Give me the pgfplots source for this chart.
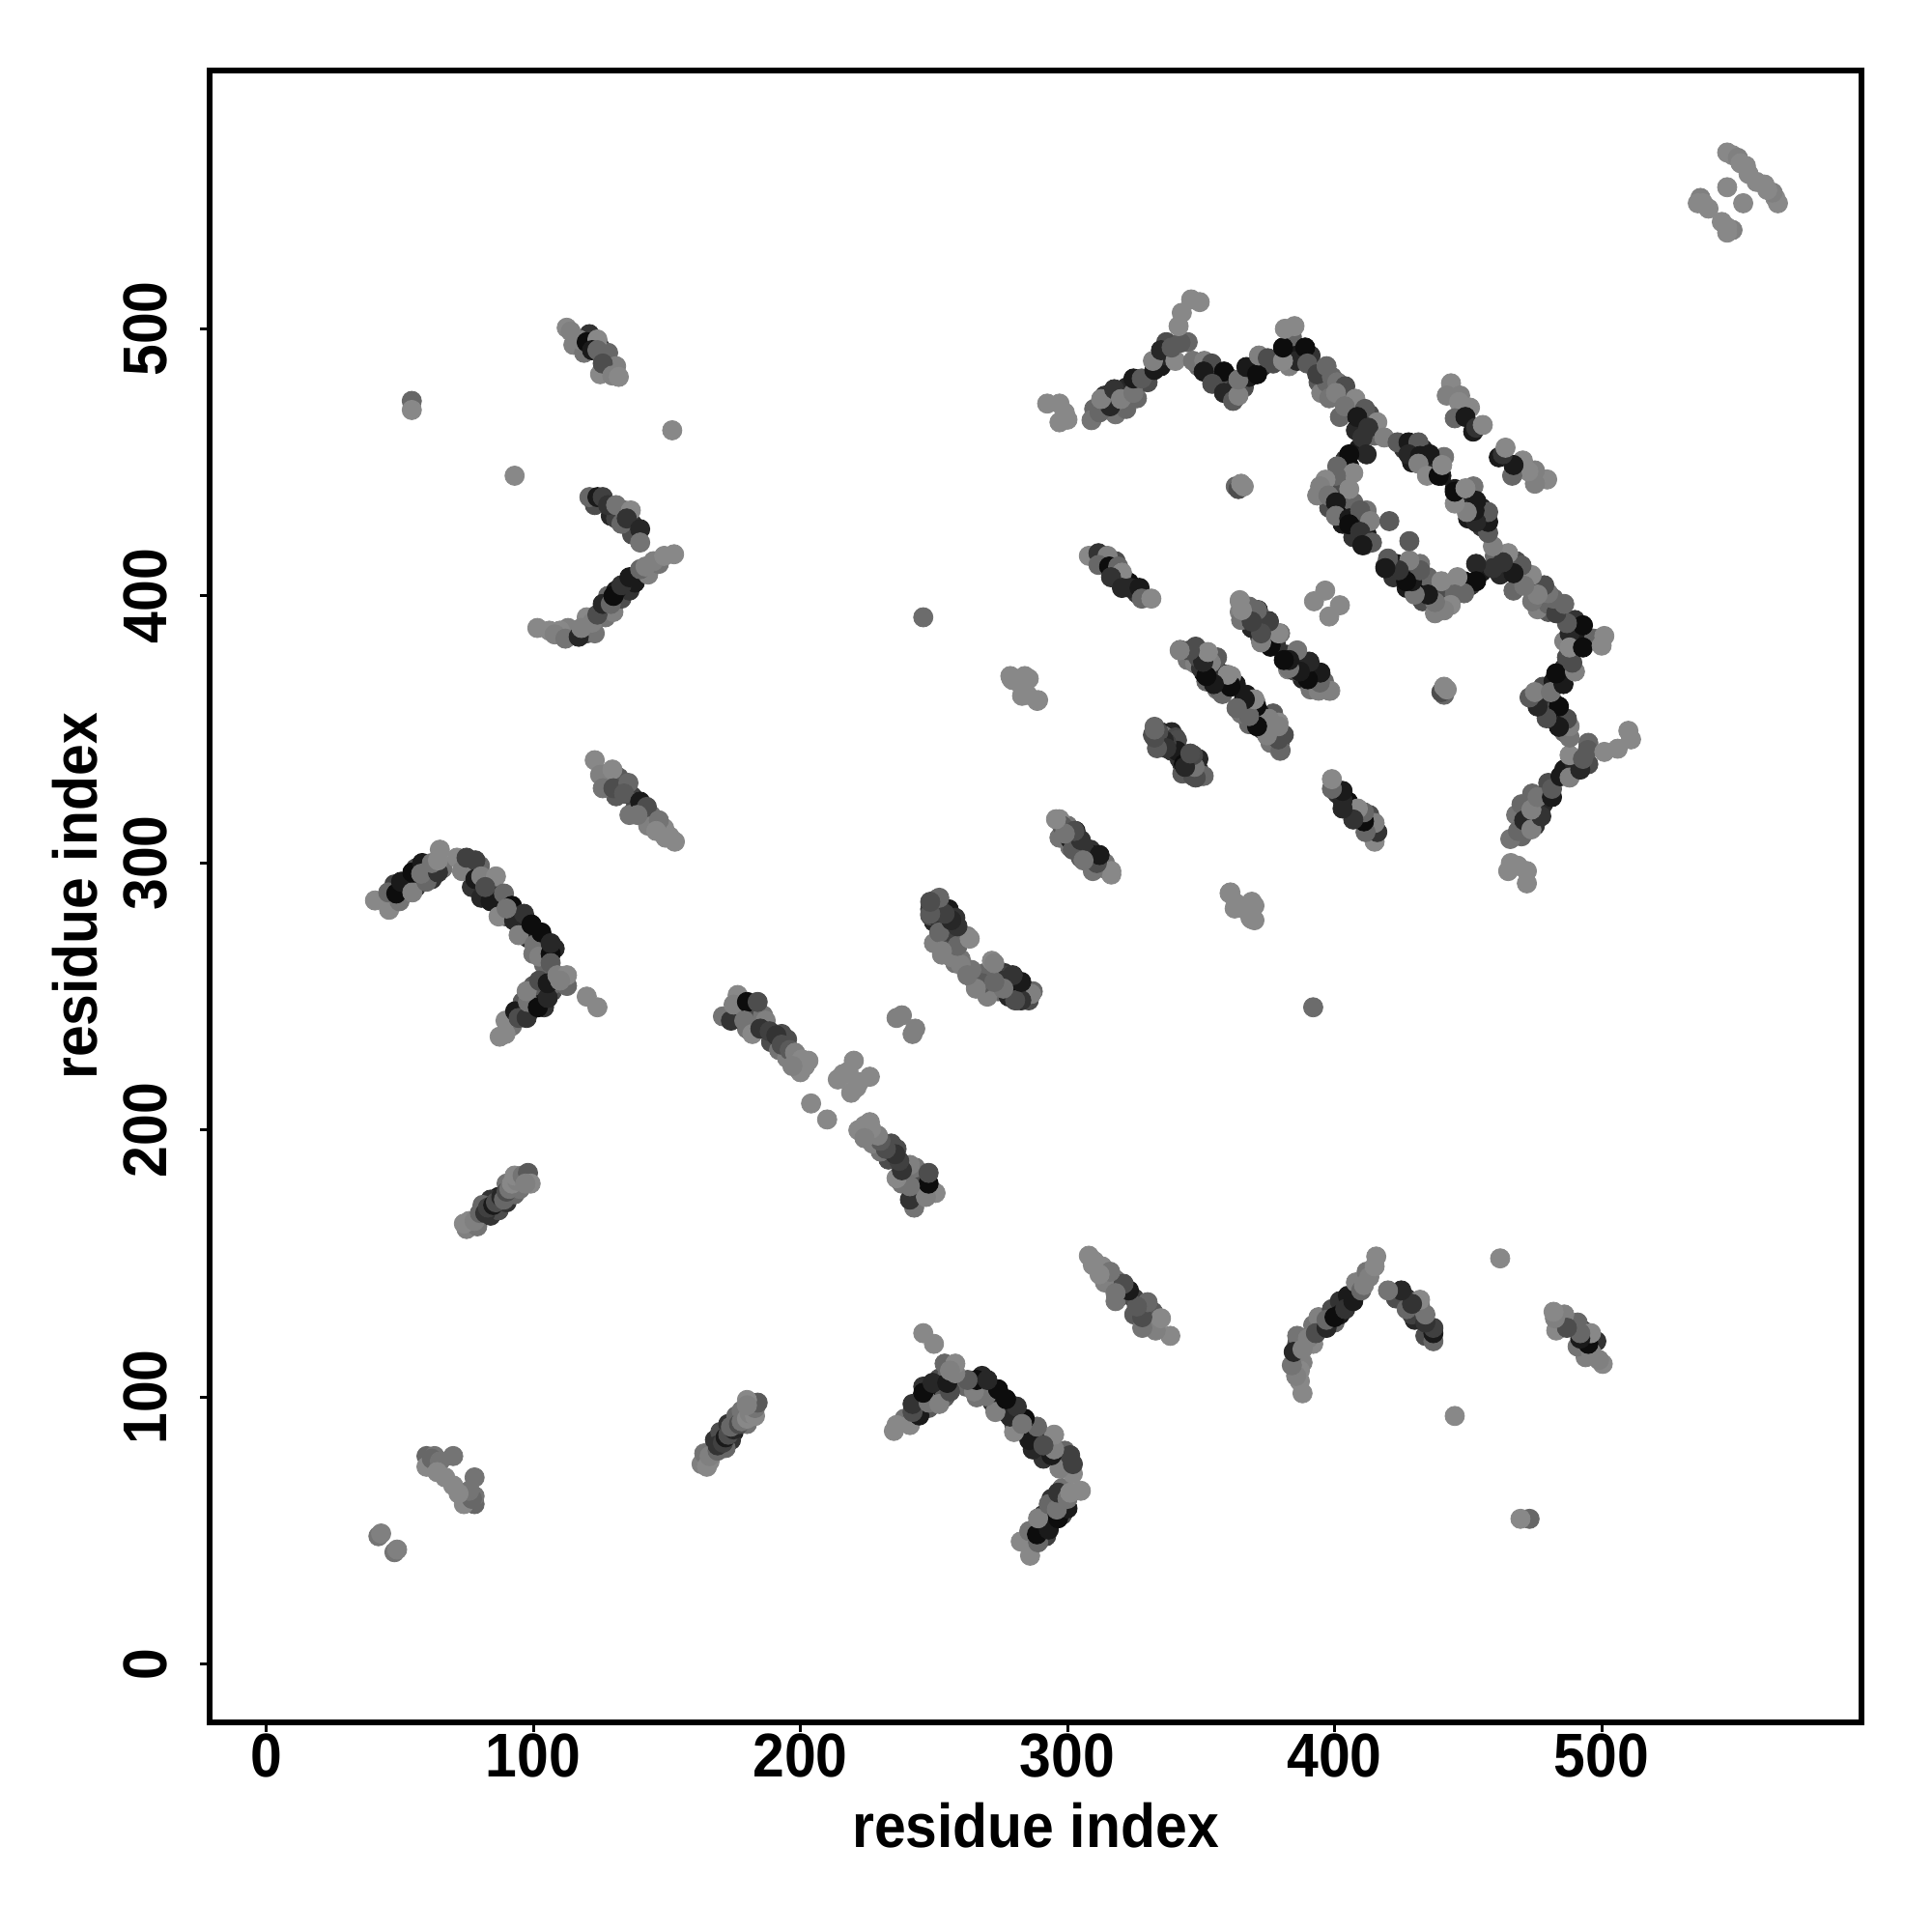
\documentclass[border=0pt]{standalone}
\usepackage{fontspec}
\setmainfont[FakeStretch=0.92]{Liberation Sans}
\usepackage{pgfplots}
\usepackage{pgfplotstable}
\pgfplotsset{compat=1.18}
\pgfplotstableread{
x y g
75 163 .5
79 164 .45
84 168 .2
87 170 .3
90 173 .2
93 176 .4
95 178 .45
87 175 .1
84 174 .2
90 180 .45
81 172 .4
47 285 .4
51 288 .3
53 293 .15
56 291 .2
59 297 .25
62 294 .2
66 298 .45
61 298 .1
52 291 .1
48 292 .25
56 298 .3
76 298 .3
80 299 .4
83 293 .15
77 291 .2
85 290 .2
88 284 .15
86 287 .1
90 280 .3
95 276 .2
97 279 .1
98 272 .2
101 272 .1
104 268 .1
108 268 .15
104 262 .4
100 266 .45
92 239 .45
95 245 .2
99 245 .1
96 248 .35
100 250 .1
103 250 .1
104 246 .2
100 254 .35
107 252 .3
108 255 .4
178 245 .25
183 244 .3
186 243 .45
180 238 .45
189 233 .3
193 236 .3
195 234 .3
192 230 .45
198 226 .5
203 226 .53
195 227 .5
115 494 .5
119 491 .45
121 498 .2
125 493 .2
128 491 .4
128 485 .4
125 483 .53
131 486 .5
123 434 .3
129 430 .15
131 429 .25
137 427 .2
137 423 .3
134 432 .4
115 387 .45
113 388 .5
120 386 .3
123 386 .45
127 392 .45
130 394 .5
133 399 .3
136 402 .2
128 400 .4
131 402 .1
138 405 .1
143 408 .5
147 412 .45
120 392 .53
110 387 .53
127 333 .45
132 332 .35
131 325 .35
137 325 .25
138 320 .3
144 318 .45
143 314 .5
149 313 .53
151 310 .53
136 318 .45
310 470 .4
314 475 .2
318 468 .45
322 470 .4
322 478 .15
326 474 .4
330 480 .3
335 486 .1
337 490 .15
337 495 .3
345 495 .4
349 486 .4
353 483 .2
356 480 .1
358 479 .15
361 478 .2
360 482 .3
363 478 .2
366 478 .3
368 482 .1
373 486 .2
377 487 .3
382 490 .1
384 497 .4
386 490 .1
383 486 .5
386 488 .15
391 490 .2
394 480 .35
395 476 .5
397 480 .4
403 476 .4
398 474 .45
406 470 .3
402 467 .4
408 462 .15
413 468 .3
415 460 .4
409 455 .1
404 451 .2
403 445 .3
398 441 .5
396 438 .3
399 439 .2
402 441 .3
403 433 .05
398 433 .3
403 427 .1
407 435 .4
408 428 .2
412 423 .1
412 432 .45
411 419 .3
407 422 .2
426 455 .2
429 450 .1
433 455 .15
436 450 .05
437 447 .15
440 445 .1
441 452 .45
430 454 .3
366 396 .4
369 392 .05
372 391 .2
373 388 .15
377 386 .1
372 385 .3
378 382 .2
384 376 .1
388 375 .3
388 369 .15
392 372 .2
396 368 .4
391 365 .45
345 376 .45
349 376 .35
352 375 .2
356 372 .1
352 368 .4
356 365 .45
359 368 .2
363 367 .1
365 357 .3
368 358 .1
372 356 .2
373 350 .2
377 349 .3
377 356 .35
381 348 .3
335 349 .2
339 349 .15
339 342 .2
342 341 .1
345 337 .25
346 336 .15
349 334 .3
300 314 .45
303 309 .1
306 306 .2
309 301 .1
314 298 .35
305 302 .35
313 413 .1
317 409 .1
318 413 .3
323 405 .05
326 401 .2
250 278 .15
252 283 .2
254 280 .05
258 276 .25
256 275 .2
250 270 .5
255 268 .35
260 264 .45
262 260 .5
271 255 .3
274 257 .25
279 252 .2
284 252 .15
274 252 .4
537 549 .5
536 547 .53
538 547 .53
540 545 .53
547 553 .53
547 566 .53
549 565 .53
551 564 .5
552 562 .53
554 561 .53
555 558 .53
42 48 .45
43 49 .5
60 78 .4
63 78 .45
70 78 .45
60 74 .53
62 77 .4
65 76 .45
64 72 .53
67 70 .53
74 165 .53
76 166 .53
78 166 .5
80 169 .4
82 169 .2
83 171 .25
85 172 .1
86 173 .3
88 175 .15
89 174 .4
90 177 .3
91 178 .45
92 180 .53
94 181 .5
93 183 .53
96 183 .45
98 184 .35
99 180 .53
97 180 .5
40.7 286 .53
46 282.5 .53
45.7 289 .4
49.9 285.7 .45
48.7 288.6 .05
50.5 293 .1
54.7 289 .5
54.7 296.5 .05
58.4 300 .1
60 293 .4
58 296 .45
64.3 296.5 .2
62 300 .45
64.3 301 .53
65 305 .53
71.4 302 .53
73.3 297 .5
75 302 .25
78.3 301 .25
78.3 294 .1
80.5 295 .5
86 295 .53
80.5 287 .15
84 285.7 .1
82 291 .3
89 288.6 .4
87 280 .53
92 284 .05
92.8 278.5 .15
96.5 281 .2
94.5 273 .5
90 283 .45
100.4 269.4 .45
99.3 277 .05
103 274 .05
102.2 265 .5
106.5 266 .05
106.5 262.6 .35
106.5 270 .15
87.4 235 .53
89.6 236 .53
89.6 241 .53
93.2 244.5 .1
94.5 242 .3
97.5 242 .2
98 248 .45
101.7 246 .05
97.5 252 .5
105.4 249.5 .15
102.2 256 .3
105.4 255 .1
109 258 .5
112.6 254 .4
112.6 258 .53
110 256 .5
120 250 .53
124 246 .53
171 242.6 .45
174 241 .2
176.5 250.6 .53
175 247 .5
180 248 .05
184 248 .3
179 241 .45
182 236 .53
187 241 .5
185 238 .2
188.5 237 .25
191 235.5 .2
193 232 .3
196 230 .35
198 229 .5
200.5 226.5 .53
201.7 224 .53
200 221.7 .53
197 224 .5
204 210 .53
214 219 .53
216 221 .53
220 226 .53
218 222 .53
236 242 .5
238 243 .5
54.5 473 .4
54.5 469.6 .53
93 445 .53
152 462 .53
246 392 .42
112.5 500.4 .53
114 499 .5
117 496 .5
120 495 .05
124 496 .53
122 492 .1
124 492 .4
126 487 .3
129.6 482.5 .5
132 482 .53
121 437 .4
124 437 .1
126 437 .25
128 434 .2
131 434 .45
133 427 .4
136.5 432 .53
135 429 .2
140 425 .15
140 420 .45
101.5 388 .53
106 387 .53
108 385.6 .5
112 384 .45
117 384.7 .15
118 388 .5
122 390 .5
124 393 .3
126 397 .15
129 397 .4
130 400 .05
133 404 .2
136 407 .1
140 410 .4
142 411 .5
145 413 .5
149 415 .53
152.7 415.6 .53
123 338.5 .53
125 333 .5
129.6 335 .53
126 328 .45
130 328 .3
135.6 330 .4
134 326 .35
140 323 .1
142.5 321 .3
139 318 .45
147 316 .45
146 312 .53
149.5 309.5 .53
153 308 .53
279 369 .53
283 369 .53
285.5 369 .53
283 362.6 .53
289 361 .53
292.4 472 .53
297 472 .53
299 468.6 .53
297 465 .53
300 466 .53
309 465.8 .45
312 468.7 .4
316 471 .15
312.6 473.7 .5
317.5 477.4 .2
320 473.7 .5
324.7 476 .45
324.7 481.4 .1
327.8 481.4 .35
332.5 484.6 .1
332 488 .5
335 492 .15
340.4 488 .53
339 493 .35
342.3 494.8 .35
341.6 501 .53
342.8 506 .53
346.3 511 .53
349.5 510 .53
347 488 .45
351.2 488 .5
354 487 .3
351 484 .1
358.6 484 .05
354.2 479.4 .3
358.6 476 .15
362 473 .35
364 475 .5
364 481 .45
367 485.7 .1
371 483 .05
371.7 490 .5
375 489 .3
380.7 488 .53
380.7 493 .05
381.4 500 .53
385 501 .53
389 493 .05
389.8 487 .35
393.5 483 .25
397 486 .4
399 482 .4
401 480 .45
404 478.5 .3
400.5 476 .5
407.8 473.8 .53
403.8 471 .45
411.4 470 .35
408.5 467 .1
416 465 .53
412.6 463 .2
418.6 459.3 .5
410.4 459.3 .2
412 453 .15
405.5 453 .05
405.5 448.5 .05
401 448.5 .4
407 446 .53
400.5 445 .4
396.6 443.5 .53
394.6 441 .5
393.5 437.6 .5
397.7 437.6 .45
405.5 440 .53
400.5 435 .1
400.5 430 .45
405.5 429 .1
409.6 432 .35
413.3 428 .5
405.5 426.8 .05
409.6 424 .2
414 420 .35
410.4 419 .1
420.5 428 .35
423.6 457.5 .35
427.7 457.5 .1
431.4 457.5 .35
427.7 453 .15
432 452.4 .1
435.6 453 .1
431.4 449.5 .5
434.6 445 .53
439 445 .05
440.3 449 .53
443.6 479.6 .53
444 477 .53
442 475 .5
447 475 .5
446.6 472.6 .53
450.7 470.5 .53
445 466.5 .4
449 467 .1
451.9 461.5 .1
453 463 .2
455.5 464 .53
392.3 398 .53
396.5 402 .53
363 441 .4
364 440 .3
365 442 .53
366 441 .53
308 415 .53
311.6 416 .2
315 415 .5
311.6 411.6 .4
315.6 411 .05
319 411 .4
320.4 408.7 .53
316.3 407 .2
320.4 403 .15
323.6 403 .15
327 403 .1
327.8 399 .4
331.4 399 .53
364.5 398 .5
364.5 394 .5
367.6 394.5 .4
371.3 394.7 .1
368.8 390 .05
375.3 390.6 .15
371.7 387 .1
373 383 .45
379.6 386 .45
376 383 .1
376 381 .05
381.4 376 .05
386 379 .53
382.6 372.5 .5
390.4 375.4 .25
386 372.5 .3
394.7 371 .4
390.4 369 .25
394.7 365.3 .53
398.4 364.5 .53
342.2 379.8 .4
346.3 379 .3
351.2 379 .5
347.8 374.7 .5
354 375.4 .5
351.2 371 .05
358.6 370.7 .05
355 368 .4
361.3 370 .53
361.3 366.4 .1
358 363.4 .4
363.3 358 .4
366 361 .05
370.5 360 .53
367 354.8 .1
375 353.7 .5
370 352 .05
375.3 350.8 .15
379 352.6 .53
379.6 345.8 .3
379.6 342 .5
332.6 351 .4
332 348 .3
336 347.6 .45
340.4 347 .28
337 343.6 .05
336 344 .15
341 346 .3
343 337 .2
343 333.5 .35
347 332.6 .3
350 332.6 .4
297 316.4 .53
297 309.5 .45
300 311 .3
303 312 .1
301 306 .45
308.6 305 .2
312 302.6 .3
311 299 .45
316.4 295.7 .53
360.7 288.7 .53
363 285 .53
370 284 .53
366 283 .53
368.5 279.5 .53
370 278.6 .53
251 286.4 .5
248.6 282.7 .2
248.6 280.4 .3
255.5 282.7 .1
258 279.5 .2
253 276 .45
255.5 272.6 .4
262.5 272.6 .5
253 265.7 .5
258 262.5 .45
264.8 256.5 .5
269 258.8 .4
271.7 263.4 .53
276.3 258.8 .2
278.6 256.5 .15
267 253 .5
281 254 .25
281 248.6 .35
287 252 .4
285.5 248.6 .3
}\contacts
\begin{document}
\begin{tikzpicture}
\path[use as bounding box] (-54.25pt,-54.25pt) rectangle (445.75pt,445.75pt);
\begin{axis}[
  at={(0pt,0pt)}, anchor=south west,
  scale only axis, width=427.5pt, height=427.5pt,
  xmin=-21.2, xmax=597.3, ymin=-21.7, ymax=596.7,
  xtick={0,100,...,500}, ytick={0,100,...,500},
  axis line style={line width=1.45pt},
  tick style={line width=.75pt, black},
  major tick length=2.4pt,
  tick align=outside, xtick pos=bottom, ytick pos=left,
  tick label style={font=\fontsize{16}{18}\selectfont\bfseries, /pgf/number format/assume math mode=true},
  yticklabel style={rotate=90, anchor=south, yshift=5.1pt},
  xticklabel style={yshift=3.1pt},
  xlabel={\fontsize{16}{18}\selectfont\bfseries residue index},
  ylabel={\fontsize{16}{18}\selectfont\bfseries residue index},
  xlabel style={yshift=0.3pt},
  ylabel style={yshift=-0.3pt},
  colormap={g}{gray(0cm)=(0); gray(1cm)=(1)},
  colormap name=g,
  point meta min=0, point meta max=1,
]
\addplot[scatter, only marks, mark=*, mark size=2.5pt, point meta=explicit,
  scatter/use mapped color={draw=mapped color, fill=mapped color}, mark options={line width=.2pt}]
  table[x index=0, y index=1, meta index=2] {\contacts};
\addplot[scatter, only marks, mark=*, mark size=2.5pt, point meta=explicit,
  scatter/use mapped color={draw=mapped color, fill=mapped color}, mark options={line width=.2pt}]
  table[x index=1, y index=0, meta index=2] {\contacts};
\end{axis}
\end{tikzpicture}
\end{document}
